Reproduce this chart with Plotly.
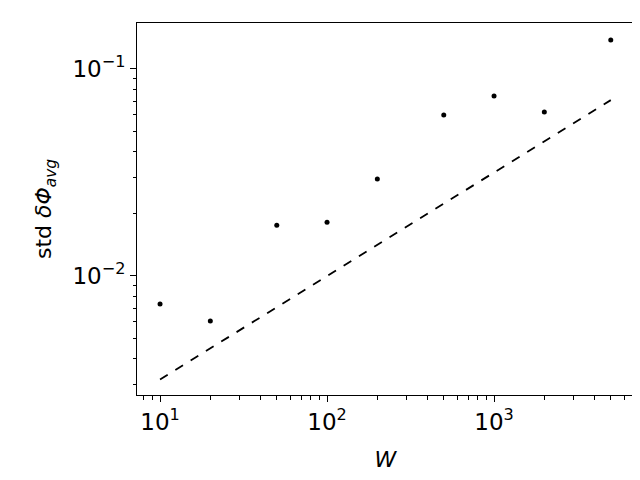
import plotly.graph_objects as go

W = [10, 20, 50, 100, 200, 500, 1000, 2000, 5000]
std_phi = [0.00732, 0.00606, 0.0176, 0.0182, 0.0294, 0.060, 0.074, 0.062, 0.138]
fit_W = [10, 5000]
fit_std = [0.00316, 0.0707]

x_major = [10, 100, 1000]
x_major_text = ["10<sup>1</sup>", "10<sup>2</sup>", "10<sup>3</sup>"]
y_major = [0.01, 0.1]
y_major_text = ["10<sup>−2</sup>", "10<sup>−1</sup>"]
x_minor = [8, 9] + [k * 10 for k in range(2, 10)] + [k * 100 for k in range(2, 10)] + [k * 1000 for k in range(2, 7)]
y_minor = [0.003, 0.004, 0.005, 0.006, 0.007, 0.008, 0.009] + [k * 0.01 for k in range(2, 10)]

fig = go.Figure()
fig.add_trace(go.Scatter(x=W, y=std_phi, mode="markers",
                         marker=dict(color="black", size=5)))
fig.add_trace(go.Scatter(x=fit_W, y=fit_std, mode="lines",
                         line=dict(color="black", dash="dash", width=1.8)))

axis_common = dict(type="log", showgrid=False, zeroline=False, mirror=True,
                   showline=True, linecolor="black", linewidth=1,
                   ticks="outside", ticklen=6, tickcolor="black", automargin=False,
                   tickfont=dict(size=23, color="black"))

fig.update_xaxes(**axis_common, range=[0.862, 3.838],
                 tickvals=x_major, ticktext=x_major_text,
                 minor=dict(tickvals=x_minor, ticks="outside", ticklen=3.5, tickcolor="black"),
                 title=dict(text="<i>W</i>", font=dict(size=22, color="black"), standoff=18))
fig.update_yaxes(**axis_common, range=[-2.575, -0.778],
                 tickvals=y_major, ticktext=y_major_text,
                 minor=dict(tickvals=y_minor, ticks="outside", ticklen=3.5, tickcolor="black"),
                 title=dict(text="std <i>δΦ<sub>avg</sub></i>", font=dict(size=22, color="black"), standoff=14))

fig.update_layout(width=640, height=480, showlegend=False,
                  plot_bgcolor="white", paper_bgcolor="white",
                  font=dict(family="DejaVu Sans"),
                  margin=dict(l=129, r=14, t=15, b=93))

fig.write_html("out.html")
